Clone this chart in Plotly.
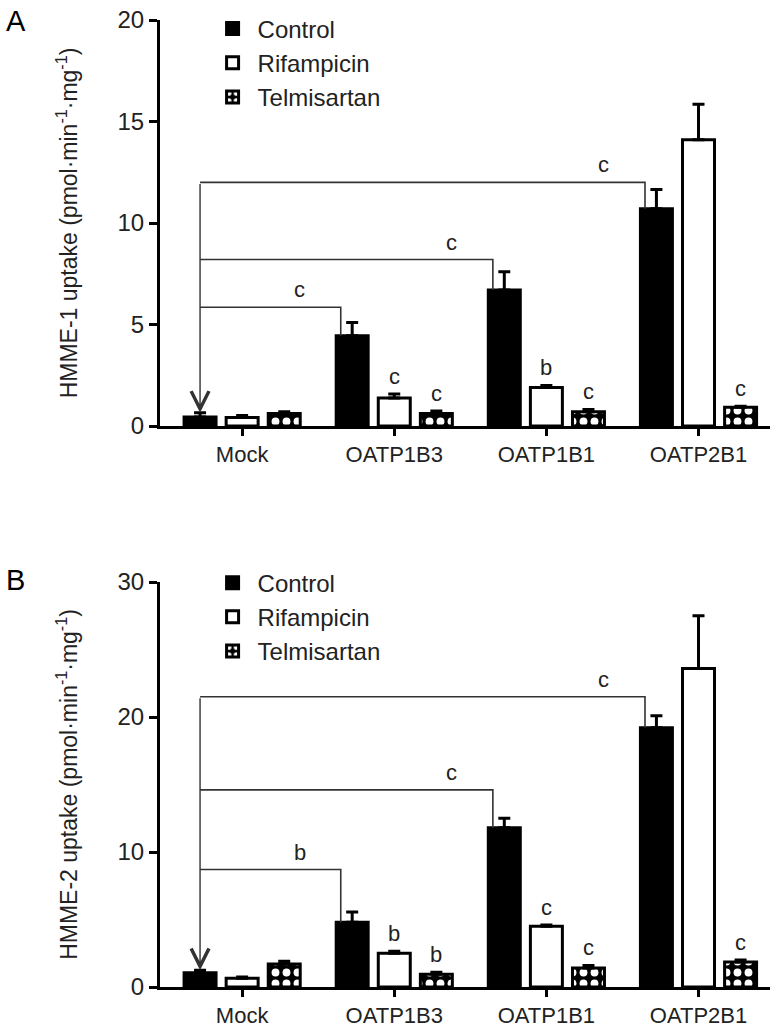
import plotly.graph_objects as go

categories = ["Mock", "OATP1B3", "OATP1B1", "OATP2B1"]
series_names = ["Control", "Rifampicin", "Telmisartan"]

# Panel A: HMME-1
a_control = [0.45, 4.45, 6.7, 10.7]
a_control_err = [0.2, 0.65, 0.9, 0.95]
a_rif = [0.42, 1.38, 1.9, 14.1]
a_rif_err = [0.1, 0.2, 0.1, 1.75]
a_telm = [0.62, 0.62, 0.7, 0.93]
a_telm_err = [0.08, 0.12, 0.12, 0.05]
a_sig_rif = ["", "c", "b", ""]
a_sig_telm = ["", "c", "c", "c"]
a_bracket_target = [1, 2, 3]
a_bracket_height = [5.85, 8.2, 12.0]
a_bracket_label = ["c", "c", "c"]

# Panel B: HMME-2
b_control = [1.05, 4.8, 11.8, 19.2]
b_control_err = [0.2, 0.75, 0.7, 0.9]
b_rif = [0.65, 2.5, 4.5, 23.6]
b_rif_err = [0.1, 0.15, 0.1, 3.9]
b_telm = [1.7, 0.95, 1.4, 1.85]
b_telm_err = [0.2, 0.15, 0.2, 0.15]
b_sig_rif = ["", "b", "c", ""]
b_sig_telm = ["", "b", "c", "c"]
b_bracket_target = [1, 2, 3]
b_bracket_height = [8.7, 14.6, 21.5]
b_bracket_label = ["b", "c", "c"]

FONT = "Liberation Sans, Arial, sans-serif"
BARGAP = 0.17
GROUPGAP = 0.24
SLOT = (1 - BARGAP) / 3
BARW = SLOT * (1 - GROUPGAP)
xidx = list(range(len(categories)))

fig = go.Figure()

def add_panel(vals, errs, xa, ya, legend, showlegend=True):
    styles = [
        dict(color="black", line=dict(color="black", width=3)),
        dict(color="white", line=dict(color="black", width=3)),
        dict(color="black", line=dict(color="black", width=3),
             pattern=dict(shape=".", fgcolor="white", bgcolor="black", fgopacity=1,
                          fillmode="replace", size=11, solidity=0.4)),
    ]
    for name, v, e, st in zip(series_names, vals, errs, styles):
        fig.add_trace(go.Bar(
            x=xidx, y=v, name=name, marker=st, xaxis=xa, yaxis=ya, legend=legend,
            showlegend=showlegend,
            error_y=dict(type="data", array=e, arrayminus=[0] * len(e), symmetric=False,
                         color="black", thickness=3, width=6),
        ))

add_panel([a_control, a_rif, a_telm], [a_control_err, a_rif_err, a_telm_err], "x", "y", "legend")
add_panel([b_control, b_rif, b_telm], [b_control_err, b_rif_err, b_telm_err], "x2", "y2", "legend2")

annotations = []
shapes = []

def add_marks(ctrl, ctrl_err, rif, rif_err, telm, telm_err, sig_rif, sig_telm,
              targets, heights, labels, xref, yref):
    # significance letters above inhibitor bars
    for j, (v, e, s) in enumerate([(rif, rif_err, sig_rif), (telm, telm_err, sig_telm)], start=1):
        for i in xidx:
            if s[i]:
                annotations.append(dict(x=i + (j - 1) * SLOT, y=v[i] + e[i], xref=xref, yref=yref,
                                        text=s[i], showarrow=False, yanchor="bottom", yshift=3,
                                        font=dict(size=22, color="#222", family=FONT)))
    x0 = 0 - SLOT
    for t, h, lab in zip(targets, heights, labels):
        xd = t - SLOT - BARW / 2 + 0.03
        shapes.append(dict(type="path", xref=xref, yref=yref,
                           path=f"M {x0},{h} L {xd},{h} L {xd},{ctrl[t]}",
                           line=dict(color="#333", width=1.6)))
        annotations.append(dict(x=xd - 0.27, y=h, xref=xref, yref=yref, text=lab,
                                showarrow=False, yanchor="bottom", yshift=3,
                                font=dict(size=22, color="#222", family=FONT)))
    annotations.append(dict(x=x0, y=ctrl[0] + ctrl_err[0], xref=xref, yref=yref,
                            ax=x0, ay=max(heights), axref=xref, ayref=yref,
                            showarrow=True, arrowhead=5, arrowsize=2.5, arrowwidth=1.4,
                            arrowcolor="#333", standoff=0, text=""))

add_marks(a_control, a_control_err, a_rif, a_rif_err, a_telm, a_telm_err, a_sig_rif, a_sig_telm,
          a_bracket_target, a_bracket_height, a_bracket_label, "x", "y")
add_marks(b_control, b_control_err, b_rif, b_rif_err, b_telm, b_telm_err, b_sig_rif, b_sig_telm,
          b_bracket_target, b_bracket_height, b_bracket_label, "x2", "y2")

annotations.append(dict(x=-0.255, y=1.018, xref="paper", yref="paper", text="A", showarrow=False,
                        xanchor="left", yanchor="top", font=dict(size=29, color="black", family=FONT)))
annotations.append(dict(x=-0.255, y=0.439, xref="paper", yref="paper", text="B", showarrow=False,
                        xanchor="left", yanchor="top", font=dict(size=29, color="black", family=FONT)))

xcommon = dict(tickmode="array", tickvals=xidx, ticktext=categories, range=[-0.54, 3.47],
               showline=True, linecolor="black", linewidth=3, ticks="outside", ticklen=7,
               tickwidth=2.5, tickcolor="black", showgrid=False, zeroline=False,
               ticklabeloverflow="allow",
               tickfont=dict(size=22, color="#222", family=FONT))
ycommon = dict(showline=True, linecolor="black", linewidth=3, ticks="outside", ticklen=8,
               tickwidth=2.5, tickcolor="black", showgrid=False, zeroline=False,
               ticklabeloverflow="allow",
               tickfont=dict(size=24, color="#222", family=FONT))

fig.update_layout(
    width=781, height=1029,
    margin=dict(l=160, r=11, t=20, b=42, autoexpand=False),
    paper_bgcolor="white", plot_bgcolor="white",
    barmode="group", bargap=BARGAP, bargroupgap=GROUPGAP,
    font=dict(family=FONT, color="#222"),
    xaxis=dict(domain=[0, 1], anchor="y", **xcommon),
    yaxis=dict(domain=[0.5801, 1.0], anchor="x", range=[0, 20], tickvals=[0, 5, 10, 15, 20],
               title=dict(text="HMME-1 uptake (pmol·min<sup>-1</sup>·mg<sup>-1</sup>)",
                          font=dict(size=23, color="#222", family=FONT), standoff=34),
               **ycommon),
    xaxis2=dict(domain=[0, 1], anchor="y2", **xcommon),
    yaxis2=dict(domain=[0, 0.4188], anchor="x2", range=[0, 30], tickvals=[0, 10, 20, 30],
                title=dict(text="HMME-2 uptake (pmol·min<sup>-1</sup>·mg<sup>-1</sup>)",
                           font=dict(size=23, color="#222", family=FONT), standoff=34),
                **ycommon),
    legend=dict(x=0.078, y=1.014, xanchor="left", yanchor="top", bgcolor="rgba(0,0,0,0)",
                font=dict(size=24, color="#222", family=FONT), itemwidth=40, tracegroupgap=0),
    legend2=dict(x=0.078, y=0.441, xanchor="left", yanchor="top", bgcolor="rgba(0,0,0,0)",
                 font=dict(size=24, color="#222", family=FONT), itemwidth=40, tracegroupgap=0),
    annotations=annotations,
    shapes=shapes,
)

# remove the browser's default 8 px body margin so the figure fills the window exactly
fig.write_html("out.html", config={"displayModeBar": False},
               post_script="document.body.style.margin='0';")
